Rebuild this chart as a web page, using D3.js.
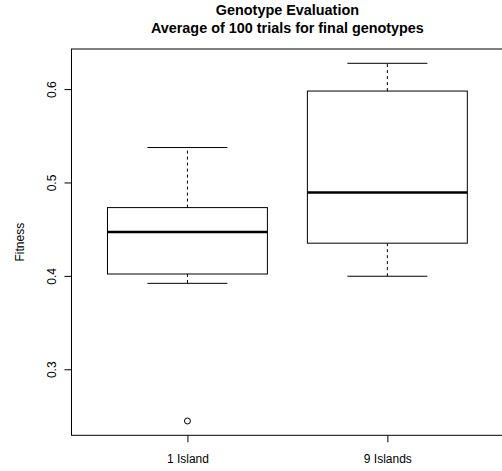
<!DOCTYPE html>
<html>
<head>
<meta charset="utf-8">
<script src="https://cdn.jsdelivr.net/npm/d3@7"></script>
<style>
  body { margin: 0; background: #fff; }
  svg { display: block; font-family: "Liberation Sans", Arial, Helvetica, sans-serif; }
</style>
</head>
<body>
<svg id="chart" width="502" height="471"></svg>
<script>
'use strict'

// values
var groups       = ["1 Island", "9 Islands"]
var lowWhisker   = [0.392, 0.3996]
var q1           = [0.402, 0.435]
var median       = [0.447, 0.4892]
var q3           = [0.4731, 0.5979]
var highWhisker  = [0.5374, 0.6276]
var outliers     = [[0.2446], []]
var yTicks       = [0.3, 0.4, 0.5, 0.6]
var titleLines   = ["Genotype Evaluation", "Average of 100 trials for final genotypes"]
var yLabel       = "Fitness"

var svg = d3.select("#chart"),
    margin = {top: 49, right: -1.3, bottom: 35.7, left: 71.5},
    width = svg.attr("width") - margin.left - margin.right,
    height = svg.attr("height") - margin.top - margin.bottom

var boxes = groups.map((g, i) => ({
  name: g, pos: i + 1,
  lo: lowWhisker[i], q1: q1[i], med: median[i], q3: q3[i], hi: highWhisker[i],
  out: outliers[i]
}))

// R style: 4% padding around the data range
var allVals = d3.merge([lowWhisker, highWhisker, d3.merge(outliers)])
var yMin = d3.min(allVals), yMax = d3.max(allVals), pad = (yMax - yMin) * 0.04
var xLo = 0.5, xHi = groups.length + 0.5, xPad = (xHi - xLo) * 0.04

var x = d3.scaleLinear().domain([xLo - xPad, xHi + xPad]).range([0, width])
var y = d3.scaleLinear().domain([yMin - pad, yMax + pad]).range([height, 0])

var g = svg.append("g")
    .attr("transform", "translate(" + margin.left + "," + margin.top + ")")

// title
svg.selectAll(".title")
  .data(titleLines)
  .enter().append("text")
    .attr("class", "title")
    .attr("x", margin.left + width / 2)
    .attr("y", (d, i) => 15 + i * 17.5)
    .attr("text-anchor", "middle")
    .attr("font-size", 14.4)
    .attr("font-weight", "bold")
    .text(d => d)

// y axis
var yAxis = g.append("g")
    .call(d3.axisLeft(y).tickValues(yTicks).tickSize(7).tickFormat(d3.format(".1f")))
yAxis.select(".domain").remove()
yAxis.selectAll("line").attr("stroke", "#000")
yAxis.selectAll("text")
    .attr("font-size", 12)
    .attr("font-family", null)
    .attr("fill", "#000")
    .attr("text-anchor", "middle")
    .attr("dy", null)
    .attr("x", null)
    .attr("transform", "translate(-16,0) rotate(-90)")

// x axis
var xAxis = g.append("g")
    .attr("transform", "translate(0," + height + ")")
    .call(d3.axisBottom(x).tickValues(boxes.map(d => d.pos)).tickSize(7)
      .tickFormat((d, i) => groups[i]))
xAxis.select(".domain").remove()
xAxis.selectAll("line").attr("stroke", "#000")
xAxis.selectAll("text")
    .attr("font-size", 12)
    .attr("font-family", null)
    .attr("fill", "#000")
    .attr("dy", null)
    .attr("y", 28)

// y label
svg.append("text")
    .attr("transform", "translate(24," + (margin.top + height / 2) + ") rotate(-90)")
    .attr("text-anchor", "middle")
    .attr("font-size", 12)
    .text(yLabel)

var boxW = 0.8, capW = 0.4

var b = g.selectAll(".box")
  .data(boxes)
  .enter().append("g")
    .attr("class", "box")

// dashed whiskers
b.append("line")
    .attr("x1", d => x(d.pos)).attr("x2", d => x(d.pos))
    .attr("y1", d => y(d.q3)).attr("y2", d => y(d.hi))
    .attr("stroke", "#000").attr("stroke-dasharray", "3,3")
b.append("line")
    .attr("x1", d => x(d.pos)).attr("x2", d => x(d.pos))
    .attr("y1", d => y(d.q1)).attr("y2", d => y(d.lo))
    .attr("stroke", "#000").attr("stroke-dasharray", "3,3")

// staples
b.append("line")
    .attr("x1", d => x(d.pos - capW / 2)).attr("x2", d => x(d.pos + capW / 2))
    .attr("y1", d => y(d.hi)).attr("y2", d => y(d.hi))
    .attr("stroke", "#000")
b.append("line")
    .attr("x1", d => x(d.pos - capW / 2)).attr("x2", d => x(d.pos + capW / 2))
    .attr("y1", d => y(d.lo)).attr("y2", d => y(d.lo))
    .attr("stroke", "#000")

// box
b.append("rect")
    .attr("x", d => x(d.pos - boxW / 2))
    .attr("width", d => x(d.pos + boxW / 2) - x(d.pos - boxW / 2))
    .attr("y", d => y(d.q3))
    .attr("height", d => y(d.q1) - y(d.q3))
    .attr("fill", "#fff").attr("stroke", "#000")

// median
b.append("line")
    .attr("x1", d => x(d.pos - boxW / 2)).attr("x2", d => x(d.pos + boxW / 2))
    .attr("y1", d => y(d.med)).attr("y2", d => y(d.med))
    .attr("stroke", "#000").attr("stroke-width", 2.5)

// outliers
b.selectAll("circle")
  .data(d => d.out.map(v => ({pos: d.pos, v: v})))
  .enter().append("circle")
    .attr("cx", d => x(d.pos))
    .attr("cy", d => y(d.v))
    .attr("r", 3)
    .attr("fill", "none")
    .attr("stroke", "#000")

// plot frame
g.append("rect")
    .attr("width", width).attr("height", height)
    .attr("fill", "none").attr("stroke", "#000")
</script>
</body>
</html>
